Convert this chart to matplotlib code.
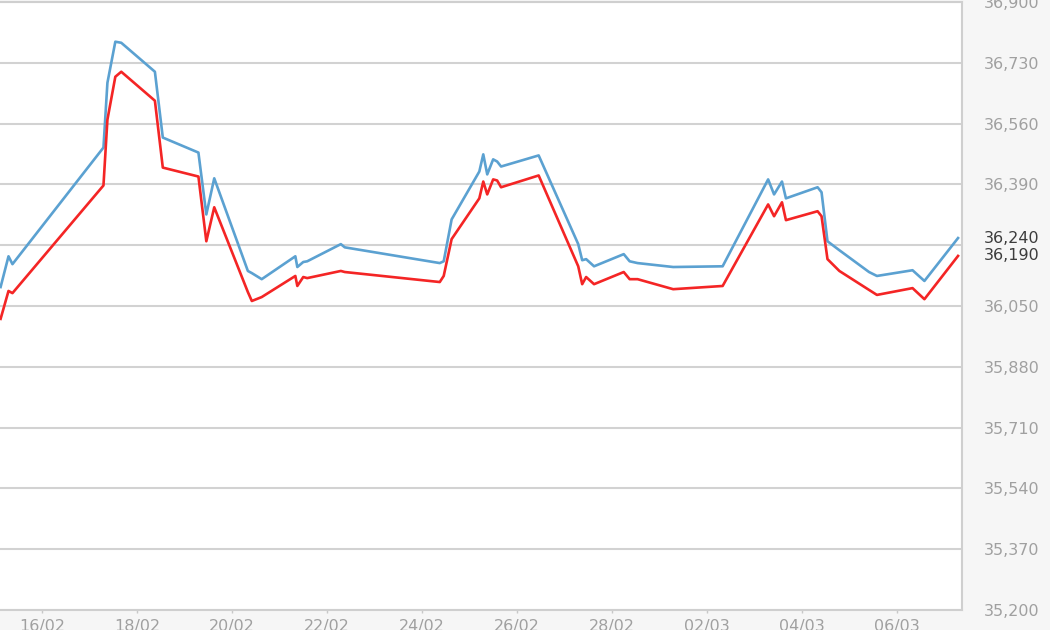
#!/usr/bin/env python3

import pandas as pd
import matplotlib
matplotlib.use('Agg')
import matplotlib.pyplot as plt
import matplotlib.dates as mdates

times = ["2015-02-15 03:00", "2015-02-15 07:00", "2015-02-15 09:00", "2015-02-17 07:00",
         "2015-02-17 09:00", "2015-02-17 13:00", "2015-02-17 16:00", "2015-02-18 09:00",
         "2015-02-18 13:00", "2015-02-19 07:00", "2015-02-19 11:00", "2015-02-19 15:00",
         "2015-02-20 08:00", "2015-02-20 10:00", "2015-02-20 15:00", "2015-02-21 08:00",
         "2015-02-21 09:00", "2015-02-21 12:00", "2015-02-21 14:00", "2015-02-22 07:00",
         "2015-02-22 09:00", "2015-02-24 09:00", "2015-02-24 11:00", "2015-02-24 15:00",
         "2015-02-25 05:00", "2015-02-25 07:00", "2015-02-25 09:00", "2015-02-25 12:00",
         "2015-02-25 14:00", "2015-02-25 16:00", "2015-02-26 11:00", "2015-02-27 07:00",
         "2015-02-27 09:00", "2015-02-27 11:00", "2015-02-27 15:00", "2015-02-28 06:00",
         "2015-02-28 09:00", "2015-02-28 13:00", "2015-03-01 07:00", "2015-03-02 08:00",
         "2015-03-03 07:00", "2015-03-03 10:00", "2015-03-03 14:00", "2015-03-03 16:00",
         "2015-03-04 08:00", "2015-03-04 10:00", "2015-03-04 13:00", "2015-03-04 19:00",
         "2015-03-05 10:00", "2015-03-05 14:00", "2015-03-06 08:00", "2015-03-06 14:00",
         "2015-03-07 07:00"]

blue = [36103, 36189, 36167, 36493, 36674, 36789, 36786, 36705, 36521, 36479, 36306, 36407,
        36148, 36142, 36125, 36189, 36159, 36173, 36175, 36223, 36214, 36170, 36175, 36292,
        36426, 36474, 36418, 36460, 36454, 36440, 36471, 36223, 36178, 36181, 36161, 36195,
        36175, 36170, 36159, 36161, 36404, 36362, 36398, 36351, 36382, 36368, 36231, 36206,
        36145, 36134, 36150, 36120, 36240]

red = [36014, 36092, 36086, 36387, 36571, 36691, 36705, 36624, 36437, 36412, 36231, 36326,
       36089, 36064, 36075, 36134, 36106, 36131, 36128, 36148, 36145, 36117, 36134, 36237,
       36351, 36398, 36362, 36404, 36401, 36382, 36415, 36161, 36111, 36131, 36111, 36145,
       36125, 36125, 36097, 36106, 36334, 36301, 36340, 36290, 36315, 36301, 36181, 36148,
       36095, 36081, 36100, 36069, 36190]

yticks = list(range(35200, 36901, 170))

df = pd.DataFrame({'time': pd.to_datetime(times), 'blue': blue, 'red': red})

fig = plt.figure(figsize=(10.5, 6.3), dpi=100, facecolor='#f6f6f6')
ax = fig.add_axes([0.0, 1 - 610 / 630, 962 / 1050, 608 / 630])
ax.set_facecolor('white')

ax.plot(df['time'], df['blue'], color='#5ba1d1', lw=1.9, zorder=3)
ax.plot(df['time'], df['red'], color='#f42525', lw=1.9, zorder=3)

ax.set_xlim(df['time'].iloc[0] - pd.Timedelta(hours=0.3), pd.Timestamp("2015-03-07 09:00"))
ax.set_ylim(35200, 36900)

ax.yaxis.tick_right()
ax.set_yticks(yticks)
labels = ['' if v == 36220 else f'{v:,}' for v in yticks]
ax.set_yticklabels(labels)
ax.tick_params(axis='y', length=0, pad=16, labelsize=11.5, labelcolor='#a0a0a0')
ax.grid(axis='y', color='#d2d2d2', lw=1.5)
ax.set_axisbelow(True)

ax.xaxis.set_major_locator(mdates.DayLocator(bymonthday=range(2, 31, 2)))
ax.xaxis.set_major_formatter(mdates.DateFormatter('%d/%m'))
ax.tick_params(axis='x', length=2.5, width=1, color='#c8c8c8', pad=4,
               labelsize=11.5, labelcolor='#a0a0a0')

for side in ['left']:
    ax.spines[side].set_visible(False)
for side in ['right', 'bottom', 'top']:
    ax.spines[side].set_color('#cfcfcf')
    ax.spines[side].set_linewidth(1.5)

for val in [blue[-1], red[-1]]:
    ax.annotate(f'{val:,}', xy=(1, val), xycoords=('axes fraction', 'data'),
                xytext=(16, 0), textcoords='offset points', va='center', ha='left',
                fontsize=11.5, color='#3c3c3c')

fig.savefig('out.png', dpi=100, facecolor=fig.get_facecolor())
